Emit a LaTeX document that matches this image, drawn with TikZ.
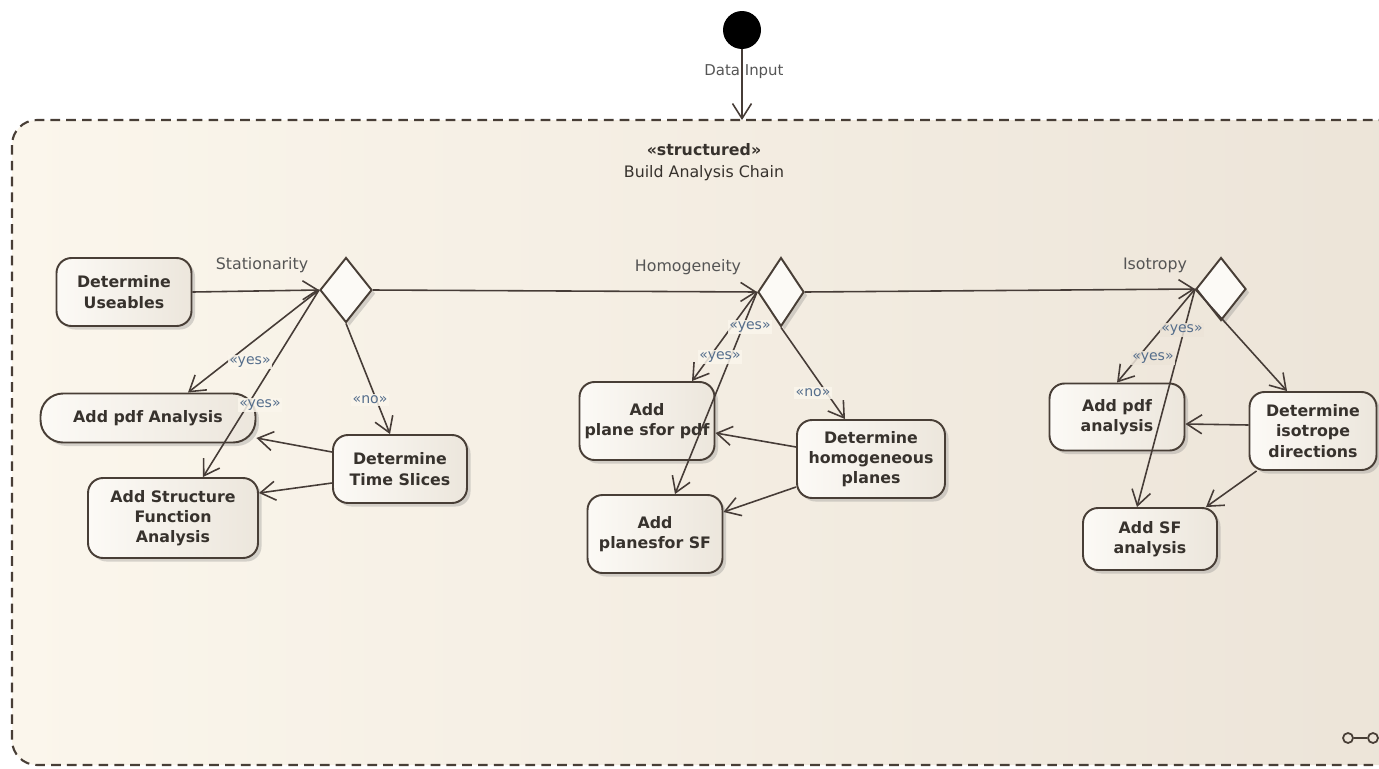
\documentclass[tikz,border=0pt]{standalone}
\usepackage{fontspec}
\setmainfont{DejaVu Sans}
\usetikzlibrary{shapes.geometric,arrows.meta,shadows}
\definecolor{framel}{RGB}{251,246,236}
\definecolor{framer}{RGB}{236,228,216}
\definecolor{boxl}{RGB}{252,250,246}
\definecolor{boxr}{RGB}{236,230,220}
\definecolor{edgec}{RGB}{72,62,54}
\definecolor{linec}{RGB}{70,60,55}
\definecolor{textc}{RGB}{55,50,45}
\definecolor{lblc}{RGB}{85,85,85}
\definecolor{guardc}{RGB}{85,110,140}
\begin{document}
\begin{tikzpicture}[x=0.02cm,y=-0.02cm,
	act/.style={draw=edgec,line width=1.1pt,rounded corners=0.3cm,align=center,
		font=\fontsize{9}{11.5}\selectfont\bfseries,text=textc,inner sep=0pt,
		left color=boxl,right color=boxr,
		drop shadow={shadow xshift=2pt,shadow yshift=-2pt,opacity=0.3}},
	dec/.style={diamond,draw=edgec,line width=1.1pt,fill=boxl,inner sep=0pt,
		drop shadow={shadow xshift=2pt,shadow yshift=-2pt,opacity=0.3}},
	lbl/.style={font=\fontsize{9}{11}\selectfont,text=lblc,inner sep=1pt},
	guard/.style={font=\fontsize{8}{10}\selectfont,text=guardc,inner sep=1pt,
		fill=framel,fill opacity=0.85,text opacity=1},
	flow/.style={draw=linec,line width=0.9pt,-{Straight Barb[length=3mm,width=3.8mm]}}]

	\clip (0,0) rectangle (1379,768);

	\draw[draw=edgec,line width=1.2pt,dash pattern=on 5.5pt off 3.5pt,rounded corners=0.5cm,
		left color=framel,right color=framer] (12,120) rectangle (1420,765);

	\node[circle,fill=black,minimum size=0.76cm,inner sep=0pt] (start) at (742,30) {};
	\coordinate (ftop) at (742,120);
	\node[lbl,font=\fontsize{8.5}{10}\selectfont] (datain) at (744,72) {Data Input};
	\draw[flow] (start) to (ftop);

	\node[lbl,text=textc,font=\fontsize{9}{11}\selectfont\bfseries] (stereo) at (704,150) {«structured»};
	\node[lbl,text=textc] (title) at (704,173) {Build Analysis Chain};

	\node[act,minimum width=2.7cm,minimum height=1.36cm] (useables) at (124,292) {Determine\\Useables};
	\node[dec,minimum width=1.04cm,minimum height=1.3cm] (d1) at (346,290) {};
	\node[lbl] (statL) at (262,265) {Stationarity};
	\node[act,minimum width=4.3cm,minimum height=0.98cm,rounded corners=0.45cm] (pdfA) at (148,418) {Add pdf Analysis};
	\node[act,minimum width=3.4cm,minimum height=1.6cm] (sfA) at (173,518) {Add Structure\\Function\\Analysis};
	\node[act,minimum width=2.68cm,minimum height=1.36cm] (slices) at (400,469) {Determine\\Time Slices};

	\node[dec,minimum width=0.92cm,minimum height=1.38cm] (d2) at (781,292) {};
	\node[lbl] (homL) at (688,267) {Homogeneity};
	\node[act,minimum width=2.7cm,minimum height=1.56cm] (planesPdf) at (647,421) {Add\\plane sfor pdf};
	\node[act,minimum width=2.7cm,minimum height=1.56cm] (planesSf) at (655,534) {Add\\planesfor SF};
	\node[act,minimum width=2.96cm,minimum height=1.56cm] (homog) at (871,459) {Determine\\homogeneous\\planes};

	\node[dec,minimum width=1.0cm,minimum height=1.26cm] (d3) at (1221,289) {};
	\node[lbl] (isoL) at (1155,265) {Isotropy};
	\node[act,minimum width=2.7cm,minimum height=1.34cm] (isoPdf) at (1117,417) {Add pdf\\analysis};
	\node[act,minimum width=2.54cm,minimum height=1.56cm] (isoDir) at (1313,431) {Determine\\isotrope\\directions};
	\node[act,minimum width=2.68cm,minimum height=1.24cm] (isoSf) at (1150,539) {Add SF\\analysis};

	\draw[flow] (useables.east) to (d1.west);
	\draw[flow] (d1.east) to (d2.west);
	\draw[flow] (d2.east) to (d3.west);

	\draw[flow] (d1.west) to ([xshift=0.8cm]pdfA.north);
	\draw[flow] (d1.west) to ([xshift=0.6cm]sfA.north);
	\draw[flow] (d1.south) to ([xshift=-0.2cm]slices.north);
	\draw[flow] ([yshift=0.34cm]slices.west) to ([yshift=-0.4cm]pdfA.east);
	\draw[flow] ([yshift=-0.28cm]slices.west) to ([yshift=0.5cm]sfA.east);

	\draw[flow] (d2.west) to ([xshift=0.9cm]planesPdf.north);
	\draw[flow] (d2.west) to ([xshift=0.4cm]planesSf.north);
	\draw[flow] (d2.south) to ([xshift=-0.52cm]homog.north);
	\draw[flow] ([yshift=0.24cm]homog.west) to ([yshift=-0.24cm]planesPdf.east);
	\draw[flow] ([yshift=-0.56cm]homog.west) to ([yshift=0.44cm]planesSf.east);

	\draw[flow] (d3.west) to (isoPdf.north);
	\draw[flow] (d3.west) to ([xshift=-0.26cm]isoSf.north);
	\draw[flow] (d3.west) to ([xshift=-0.52cm]isoDir.north);
	\draw[flow] ([yshift=0.12cm]isoDir.west) to ([yshift=-0.14cm]isoPdf.east);
	\draw[flow] ([xshift=0.16cm]isoDir.south west) to ([xshift=-0.24cm]isoSf.north east);

	\node[guard] (g1) at (250,362) {«yes»};
	\node[guard] (g2) at (260,405) {«yes»};
	\node[guard] (g3) at (370,400) {«no»};
	\node[guard] (g4) at (750,327) {«yes»};
	\node[guard] (g5) at (720,357) {«yes»};
	\node[guard] (g6) at (813,393) {«no»};
	\node[guard,fill=framer] (g7) at (1182,330) {«yes»};
	\node[guard,fill=framer] (g8) at (1153,358) {«yes»};

	\node[circle,draw=edgec,line width=1pt,minimum size=0.2cm,inner sep=0pt] (rakeA) at (1348,738) {};
	\node[circle,draw=edgec,line width=1pt,minimum size=0.2cm,inner sep=0pt] (rakeB) at (1373,738) {};
	\draw[draw=edgec,line width=1pt] (rakeA) to (rakeB);

\end{tikzpicture}
\end{document}
